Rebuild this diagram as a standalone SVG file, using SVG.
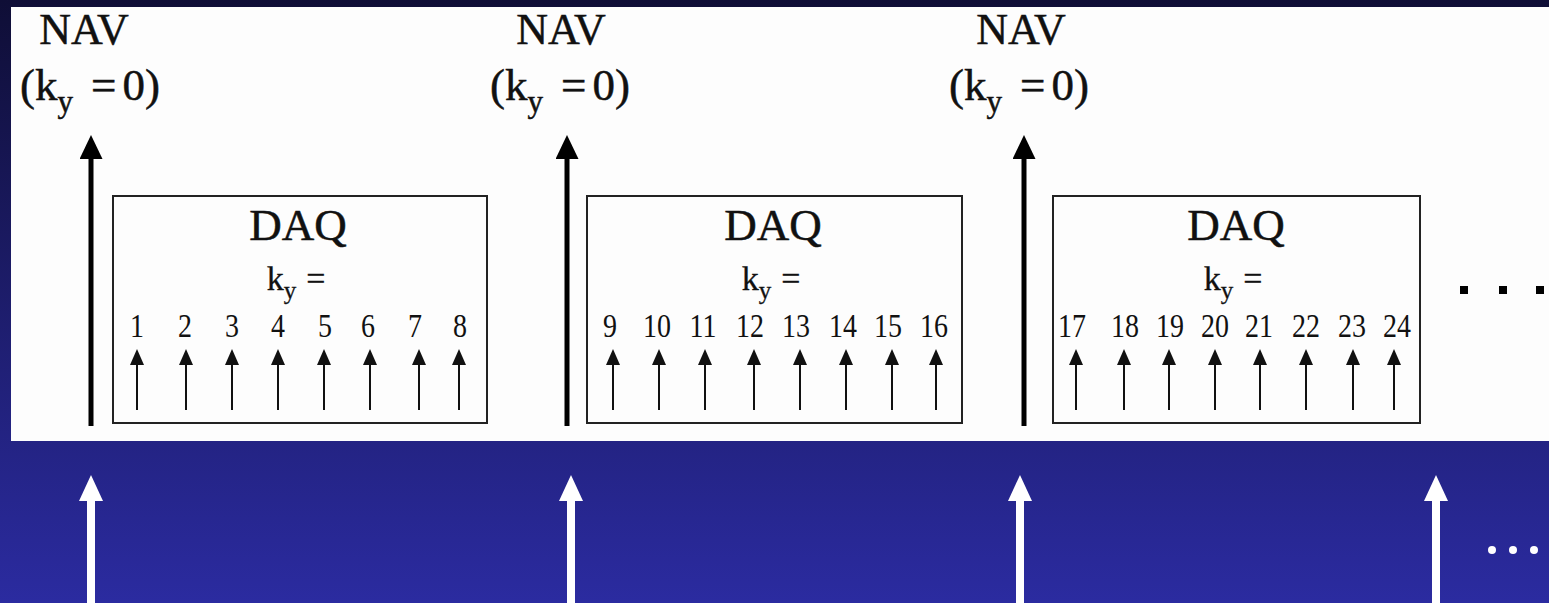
<svg xmlns="http://www.w3.org/2000/svg" width="1549" height="603" viewBox="0 0 1549 603">
  <style>
    .serif { font-family: "Liberation Serif", "Times New Roman", serif; fill: #111; }
    .heavy { stroke: #111; stroke-width: 0.5; }
    .nav { font-size: 44px; text-anchor: middle; }
    .ky0 { font-size: 45px; }
    .sub { font-size: 31px; }
    .daq { font-size: 45px; text-anchor: middle; }
    .kyeq { font-size: 34px; text-anchor: middle; }
    .num { font-size: 28px; text-anchor: middle; }
    .box { fill: none; stroke: #222; stroke-width: 2; }
    .nav-arrow { stroke: #000; stroke-width: 5; marker-end: url(#headBig); }
    .k-arrow { stroke: #111; stroke-width: 2; marker-end: url(#headSmall); }
    .cycle-arrow { stroke: #fff; stroke-width: 8; marker-end: url(#headWhite); }
  </style>
  <defs>
    <linearGradient id="bg" x1="0" y1="0" x2="0" y2="1">
      <stop offset="0" stop-color="#0f0e36"/>
      <stop offset="1" stop-color="#2b2ba0"/>
    </linearGradient>
    <marker id="headBig" markerUnits="userSpaceOnUse" markerWidth="26" markerHeight="24" refX="2" refY="11.5" orient="auto">
      <path d="M0,0 L24,11.5 L0,23 z" fill="#000"/>
    </marker>
    <marker id="headSmall" markerUnits="userSpaceOnUse" markerWidth="18" markerHeight="15" refX="1" refY="7" orient="auto">
      <path d="M0,0 L16,7 L0,14 z" fill="#111"/>
    </marker>
    <marker id="headWhite" markerUnits="userSpaceOnUse" markerWidth="28" markerHeight="25" refX="2" refY="12" orient="auto">
      <path d="M0,0 L26,12 L0,24 z" fill="#fff"/>
    </marker>
  </defs>

  <!-- slide background and white figure panel -->
  <rect x="0" y="0" width="1549" height="603" fill="url(#bg)"/>
  <rect x="11" y="7" width="1538" height="434" fill="#fdfdfd"/>

  <!-- navigator acquisitions -->
  <g id="nav1" class="serif heavy">
    <text class="nav" x="84" y="44">NAV</text>
    <text class="ky0" x="20" y="100">(k<tspan class="sub" dy="12">y</tspan><tspan dy="-12" dx="18">=</tspan><tspan dx="6">0)</tspan></text>
  </g>
  <g id="nav2" class="serif heavy">
    <text class="nav" x="561" y="44">NAV</text>
    <text class="ky0" x="490" y="100">(k<tspan class="sub" dy="12">y</tspan><tspan dy="-12" dx="18">=</tspan><tspan dx="6">0)</tspan></text>
  </g>
  <g id="nav3" class="serif heavy">
    <text class="nav" x="1021" y="44">NAV</text>
    <text class="ky0" x="949" y="100">(k<tspan class="sub" dy="12">y</tspan><tspan dy="-12" dx="18">=</tspan><tspan dx="6">0)</tspan></text>
  </g>

  <!-- data acquisition blocks -->
  <g id="daq1" class="serif">
    <rect class="box" x="113" y="196" width="374" height="227"/>
    <text class="daq heavy" x="298" y="240">DAQ</text>
    <text class="kyeq" x="296" y="290" stroke="#111" stroke-width="0.3">k<tspan font-size="25" dy="9">y</tspan><tspan dy="-9" dx="10">=</tspan></text>
    <g transform="translate(0,337) scale(1,1.2)">
      <text class="num" x="137" y="0">1</text>
      <text class="num" x="185" y="0">2</text>
      <text class="num" x="232" y="0">3</text>
      <text class="num" x="278" y="0">4</text>
      <text class="num" x="325" y="0">5</text>
      <text class="num" x="368" y="0">6</text>
      <text class="num" x="415" y="0">7</text>
      <text class="num" x="460" y="0">8</text>
    </g>
  </g>
  <g id="daq2" class="serif">
    <rect class="box" x="587" y="196" width="375" height="227"/>
    <text class="daq heavy" x="773" y="240">DAQ</text>
    <text class="kyeq" x="771" y="290" stroke="#111" stroke-width="0.3">k<tspan font-size="25" dy="9">y</tspan><tspan dy="-9" dx="10">=</tspan></text>
    <g transform="translate(0,337) scale(1,1.2)">
      <text class="num" x="610" y="0">9</text>
      <text class="num" x="657" y="0">10</text>
      <text class="num" x="703" y="0">11</text>
      <text class="num" x="750" y="0">12</text>
      <text class="num" x="796" y="0">13</text>
      <text class="num" x="843" y="0">14</text>
      <text class="num" x="888" y="0">15</text>
      <text class="num" x="934" y="0">16</text>
    </g>
  </g>
  <g id="daq3" class="serif">
    <rect class="box" x="1053" y="196" width="367" height="227"/>
    <text class="daq heavy" x="1236" y="240">DAQ</text>
    <text class="kyeq" x="1233" y="290" stroke="#111" stroke-width="0.3">k<tspan font-size="25" dy="9">y</tspan><tspan dy="-9" dx="10">=</tspan></text>
    <g transform="translate(0,337) scale(1,1.2)">
      <text class="num" x="1072" y="0">17</text>
      <text class="num" x="1125" y="0">18</text>
      <text class="num" x="1170" y="0">19</text>
      <text class="num" x="1215" y="0">20</text>
      <text class="num" x="1259" y="0">21</text>
      <text class="num" x="1306" y="0">22</text>
      <text class="num" x="1352" y="0">23</text>
      <text class="num" x="1397" y="0">24</text>
    </g>
  </g>

  <!-- continuation marks -->
  <g id="more-panel" fill="#000">
    <rect x="1460" y="286" width="8" height="8"/>
    <rect x="1499" y="286" width="8" height="8"/>
    <rect x="1536" y="286" width="8" height="8"/>
  </g>
  <g id="more-cycles" fill="#fff">
    <circle cx="1492" cy="550" r="4"/>
    <circle cx="1513" cy="550" r="4"/>
    <circle cx="1534" cy="550" r="4"/>
  </g>

  <!-- connectors -->
  <g id="connectors">
    <line class="nav-arrow" x1="91" y1="426" x2="91" y2="157"/>
    <line class="nav-arrow" x1="567" y1="426" x2="567" y2="157"/>
    <line class="nav-arrow" x1="1024" y1="426" x2="1024" y2="157"/>

    <line class="k-arrow" x1="137" y1="410" x2="137" y2="364"/>
    <line class="k-arrow" x1="186" y1="410" x2="186" y2="364"/>
    <line class="k-arrow" x1="232" y1="410" x2="232" y2="364"/>
    <line class="k-arrow" x1="278" y1="410" x2="278" y2="364"/>
    <line class="k-arrow" x1="324" y1="410" x2="324" y2="364"/>
    <line class="k-arrow" x1="370" y1="410" x2="370" y2="364"/>
    <line class="k-arrow" x1="419" y1="410" x2="419" y2="364"/>
    <line class="k-arrow" x1="459" y1="410" x2="459" y2="364"/>

    <line class="k-arrow" x1="613" y1="410" x2="613" y2="364"/>
    <line class="k-arrow" x1="659" y1="410" x2="659" y2="364"/>
    <line class="k-arrow" x1="705" y1="410" x2="705" y2="364"/>
    <line class="k-arrow" x1="754" y1="410" x2="754" y2="364"/>
    <line class="k-arrow" x1="800" y1="410" x2="800" y2="364"/>
    <line class="k-arrow" x1="846" y1="410" x2="846" y2="364"/>
    <line class="k-arrow" x1="892" y1="410" x2="892" y2="364"/>
    <line class="k-arrow" x1="936" y1="410" x2="936" y2="364"/>

    <line class="k-arrow" x1="1076" y1="410" x2="1076" y2="364"/>
    <line class="k-arrow" x1="1124" y1="410" x2="1124" y2="364"/>
    <line class="k-arrow" x1="1169" y1="410" x2="1169" y2="364"/>
    <line class="k-arrow" x1="1215" y1="410" x2="1215" y2="364"/>
    <line class="k-arrow" x1="1260" y1="410" x2="1260" y2="364"/>
    <line class="k-arrow" x1="1306" y1="410" x2="1306" y2="364"/>
    <line class="k-arrow" x1="1353" y1="410" x2="1353" y2="364"/>
    <line class="k-arrow" x1="1394" y1="410" x2="1394" y2="364"/>

    <line class="cycle-arrow" x1="91" y1="603" x2="91" y2="499"/>
    <line class="cycle-arrow" x1="571" y1="603" x2="571" y2="499"/>
    <line class="cycle-arrow" x1="1020" y1="603" x2="1020" y2="499"/>
    <line class="cycle-arrow" x1="1436" y1="603" x2="1436" y2="499"/>
  </g>
</svg>
